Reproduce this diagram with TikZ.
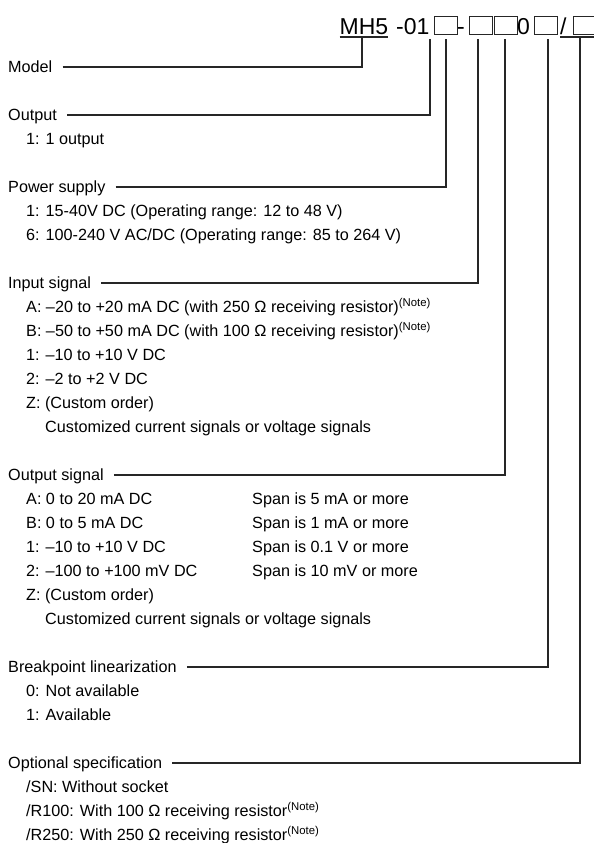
\documentclass[tikz,border=0pt]{standalone}
\usepackage{fontspec}
\setmainfont{Liberation Sans}
\usetikzlibrary{positioning}
\tikzset{
  pnpart/.style={anchor=base west, inner sep=0pt, font=\fontsize{23}{24}\selectfont},
  pnbox/.style={anchor=south west, draw=black!85, line width=1.1pt, inner sep=0pt,
                minimum width=23pt, minimum height=17.5pt},
  lab/.style={anchor=west, inner sep=0pt, text height=11.6pt, text depth=0pt,
              font=\fontsize{16.2}{20}\selectfont},
  itm/.style={lab},
  conn/.style={draw=black!85, line width=1.1pt, shorten <=10pt},
  uline/.style={draw=black!85, line width=1.1pt},
}

\begin{document}
\begin{tikzpicture}[x=1pt, y=-1pt]
  \useasboundingbox (0,0) rectangle (594,843);
  % model code
  \node[pnpart] (mh5) at (339.5,35) {MH5};
  \node[pnpart] (pn01) at (396,35) {-01};
  \node[pnbox] (bx1) at (434,35) {};
  \node[pnpart] (dash) at (457,35) {-};
  \node[pnbox] (bx2) at (468.5,35) {};
  \node[pnbox] (bx3) at (494,35) {};
  \node[pnpart] (pn0) at (517,35) {0};
  \node[pnbox] (bx4) at (534,35) {};
  \node[pnpart] (slash) at (560,35) {/};
  \node[pnbox] (bx5) at (573,35) {};
  \draw[uline] ([yshift=-2pt]mh5.base west) -- ([yshift=-2pt]mh5.base east);
  \draw[uline] ([yshift=-2pt]slash.base west) -- (594,37);
  \coordinate (tModel) at (362,37);
  \coordinate (tOut) at (430,39);
  \coordinate (tPow) at (446,39);
  \coordinate (tIn) at (478,39);
  \coordinate (tOsig) at (505,39);
  \coordinate (tBrk) at (548,39);
  \coordinate (tOpt) at (580,37);

  % Model
  \node[lab] (model) at (8,67) {Model};
  \draw[conn] (model.east) -| (tModel);

  % Output
  \node[lab] (output) at (8,115) {Output};
  \node[itm] (out1) at (26,139) {1: 1 output};
  \draw[conn] (output.east) -| (tOut);

  % Power supply
  \node[lab] (power) at (8,187) {Power supply};
  \node[itm] (pow1) at (26,211) {1: 15-40V DC (Operating range: 12 to 48 V)};
  \node[itm] (pow6) at (26,235) {6: 100-240 V AC/DC (Operating range: 85 to 264 V)};
  \draw[conn] (power.east) -| (tPow);

  % Input signal
  \node[lab] (input) at (8,283) {Input signal};
  \node[itm] (inA) at (26,307) {A: –20 to +20 mA DC (with 250 Ω receiving resistor)\textsuperscript{(Note)}};
  \node[itm] (inB) at (26,331) {B: –50 to +50 mA DC (with 100 Ω receiving resistor)\textsuperscript{(Note)}};
  \node[itm] (in1) at (26,355) {1: –10 to +10 V DC};
  \node[itm] (in2) at (26,379) {2: –2 to +2 V DC};
  \node[itm] (inZ) at (26,403) {Z: (Custom order)};
  \node[itm] (inZc) at (45,427) {Customized current signals or voltage signals};
  \draw[conn] (input.east) -| (tIn);

  % Output signal
  \node[lab] (osig) at (8,475) {Output signal};
  \node[itm] (osA) at (26,499) {A: 0 to 20 mA DC};
  \node[itm] (osB) at (26,523) {B: 0 to 5 mA DC};
  \node[itm] (os1) at (26,547) {1: –10 to +10 V DC};
  \node[itm] (os2) at (26,571) {2: –100 to +100 mV DC};
  \node[itm] (osZ) at (26,595) {Z: (Custom order)};
  \node[itm] (osZc) at (45,619) {Customized current signals or voltage signals};
  \node[itm] (spA) at (252,499) {Span is 5 mA or more};
  \node[itm] (spB) at (252,523) {Span is 1 mA or more};
  \node[itm] (sp1) at (252,547) {Span is 0.1 V or more};
  \node[itm] (sp2) at (252,571) {Span is 10 mV or more};
  \draw[conn] (osig.east) -| (tOsig);

  % Breakpoint linearization
  \node[lab] (brk) at (8,667) {Breakpoint linearization};
  \node[itm] (brk0) at (26,691) {0: Not available};
  \node[itm] (brk1) at (26,715) {1: Available};
  \draw[conn] (brk.east) -| (tBrk);

  % Optional specification
  \node[lab] (opt) at (8,763) {Optional specification};
  \node[itm] (optSN) at (26,787) {/SN: Without socket};
  \node[itm] (optR1) at (26,811) {/R100: With 100 Ω receiving resistor\textsuperscript{(Note)}};
  \node[itm] (optR2) at (26,835) {/R250: With 250 Ω receiving resistor\textsuperscript{(Note)}};
  \draw[conn] (opt.east) -| (tOpt);
\end{tikzpicture}
\end{document}
